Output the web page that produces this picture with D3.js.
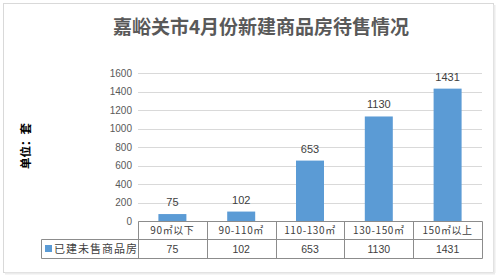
<!DOCTYPE html>
<html>
<head>
<meta charset="utf-8">
<script src="https://cdn.jsdelivr.net/npm/d3@7"></script>
<style>
  body { margin: 0; background: #fff; }
  text { font-family: "Noto Sans CJK SC", "Noto Sans", sans-serif; }
</style>
</head>
<body>
<div class="board"></div>
<script>
// data
var categories = ['90㎡以下', '90-110㎡', '110-130㎡', '130-150㎡', '150㎡以上'];
var values = [75, 102, 653, 1130, 1431];
var seriesName = '已建未售商品房';
var yTicks = [0, 200, 400, 600, 800, 1000, 1200, 1400, 1600];

var W = 500, H = 279;
var plotL = 138, plotR = 482, plotT = 73, plotB = 221;

var svg = d3.select('.board')
  .append('svg')
  .attr('width', W)
  .attr('height', H);

// chart frame
svg.append('rect')
  .attr('x', 3.5).attr('y', 3.5)
  .attr('width', 490).attr('height', 269)
  .attr('fill', '#fff')
  .attr('stroke', '#d9d9d9');
svg.append('line')
  .attr('x1', 494.5).attr('x2', 494.5).attr('y1', 5).attr('y2', 273)
  .attr('stroke', '#ececec').attr('stroke-width', 2);
svg.append('line')
  .attr('x1', 5).attr('x2', 495).attr('y1', 273.5).attr('y2', 273.5)
  .attr('stroke', '#ececec').attr('stroke-width', 2);

// title
svg.append('text')
  .attr('x', 261).attr('y', 34)
  .attr('text-anchor', 'middle')
  .style('font-size', '19px')
  .style('font-weight', 'bold')
  .attr('fill', '#595959')
  .text('嘉峪关市4月份新建商品房待售情况');

var x = d3.scaleBand().domain(categories).range([plotL, plotR]).paddingInner(0).paddingOuter(0);
var y = d3.scaleLinear().domain([0, 1600]).range([plotB, plotT]);

// gridlines
svg.append('g').selectAll('line')
  .data(yTicks)
  .enter()
  .append('line')
  .attr('x1', plotL).attr('x2', plotR)
  .attr('y1', function(d) { return Math.round(y(d)) + 0.5; })
  .attr('y2', function(d) { return Math.round(y(d)) + 0.5; })
  .attr('stroke', '#d9d9d9');

// y axis labels
var yAxis = d3.axisLeft(y).tickValues(yTicks).tickSize(0).tickPadding(6).tickFormat(d3.format('d'));
var ga = svg.append('g').attr('transform', 'translate(' + plotL + ',0)').call(yAxis);
ga.select('.domain').remove();
ga.selectAll('text')
  .style('font-family', '"Liberation Sans", Arial, sans-serif')
  .style('font-size', '10px')
  .attr('fill', '#595959');

// axis title
svg.append('text')
  .attr('transform', 'translate(30,146) rotate(-90)')
  .attr('text-anchor', 'middle')
  .style('font-size', '11.5px')
  .style('font-weight', 'bold')
  .attr('fill', '#000')
  .text('单位：套');

// bars
var bw = 28;
svg.append('g').selectAll('rect')
  .data(values)
  .enter()
  .append('rect')
  .attr('x', function(d, i) { return x(categories[i]) + x.bandwidth() / 2 - bw / 2; })
  .attr('y', function(d) { return y(d); })
  .attr('width', bw)
  .attr('height', function(d) { return y(0) - y(d); })
  .attr('fill', '#5b9bd5');

// data labels
svg.append('g').selectAll('text')
  .data(values)
  .enter()
  .append('text')
  .attr('x', function(d, i) { return x(categories[i]) + x.bandwidth() / 2; })
  .attr('y', function(d) { return y(d) - 8; })
  .attr('text-anchor', 'middle')
  .style('font-family', '"Liberation Sans", Arial, sans-serif')
  .style('font-size', '11px')
  .attr('fill', '#404040')
  .text(function(d) { return d; });

// data table
var r0 = plotB, r1 = 239.5, r2 = 258.5, legL = 41.5;
var tbl = svg.append('g').attr('stroke', '#8c8c8c').attr('stroke-width', 1);
tbl.append('line').attr('x1', plotL + 0.5).attr('x2', plotR + 0.5).attr('y1', r0 + 0.5).attr('y2', r0 + 0.5);
tbl.append('line').attr('x1', legL).attr('x2', plotR + 0.5).attr('y1', r1).attr('y2', r1);
tbl.append('line').attr('x1', legL).attr('x2', plotR + 0.5).attr('y1', r2).attr('y2', r2);
tbl.append('line').attr('x1', legL).attr('x2', legL).attr('y1', r1).attr('y2', r2);
tbl.selectAll('line.v')
  .data(categories.concat(['end']))
  .enter()
  .append('line')
  .attr('class', 'v')
  .attr('x1', function(d, i) { return Math.round(plotL + i * x.bandwidth()) + 0.5; })
  .attr('x2', function(d, i) { return Math.round(plotL + i * x.bandwidth()) + 0.5; })
  .attr('y1', r0 + 0.5).attr('y2', r2);

svg.append('g').selectAll('text')
  .data(categories)
  .enter()
  .append('text')
  .attr('x', function(d) { return x(d) + x.bandwidth() / 2; })
  .attr('y', 234)
  .attr('text-anchor', 'middle')
  .style('font-size', '10px')
  .style('letter-spacing', '0.6px')
  .attr('fill', '#404040')
  .text(function(d) { return d; });

svg.append('g').selectAll('text')
  .data(values)
  .enter()
  .append('text')
  .attr('x', function(d, i) { return x(categories[i]) + x.bandwidth() / 2; })
  .attr('y', 253)
  .attr('text-anchor', 'middle')
  .style('font-family', '"Liberation Sans", Arial, sans-serif')
  .style('font-size', '10.5px')
  .attr('fill', '#404040')
  .text(function(d) { return d; });

// legend key in table
svg.append('rect')
  .attr('x', 45).attr('y', 245)
  .attr('width', 7).attr('height', 7)
  .attr('fill', '#5b9bd5');
svg.append('text')
  .attr('x', 54).attr('y', 253)
  .style('font-size', '11px')
  .style('letter-spacing', '1px')
  .attr('fill', '#404040')
  .text(seriesName);
</script>
</body>
</html>
